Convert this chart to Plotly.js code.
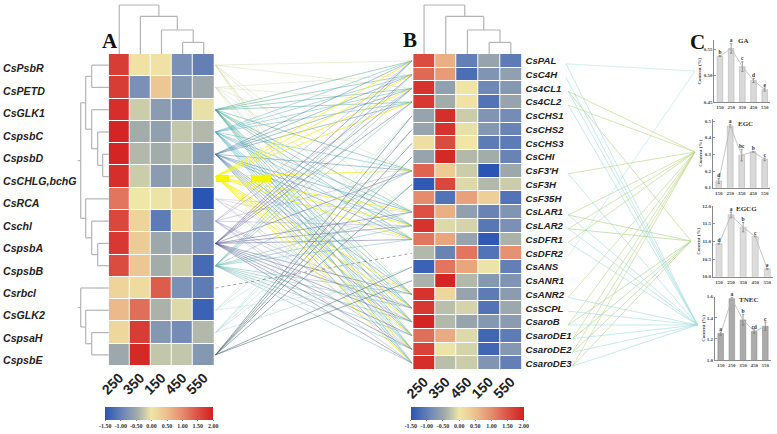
<!DOCTYPE html>
<html><head><meta charset="utf-8">
<script src="https://cdn.plot.ly/plotly-3.0.1.min.js"></script>
<style>html,body{margin:0;padding:0;background:#fff}#c{width:777px;height:434px}</style>
</head><body><div id="c"></div>
<script>
// ---------- data ----------
const genesA = ["CsPsbR","CsPETD","CsGLK1","CspsbC","CspsbD","CsCHLG,bchG","CsRCA","Cschl","CspsbA","CspsbB","Csrbcl","CsGLK2","CspsaH","CspsbE"];
const colsA = ["250","350","150","450","550"];
const valuesA = [
[1.7,0.05,0.05,-0.8,-1.0],[1.7,-0.8,0.4,-0.7,-0.5],[1.85,-0.2,-0.65,-0.8,-0.05],[1.95,-0.45,-0.6,-0.25,-0.35],
[1.95,-0.35,-0.45,-0.25,-0.7],[1.85,-0.2,-0.65,-0.45,-0.5],[1.2,0.0,-0.02,0.25,-1.5],[1.6,0.25,-1.05,0.05,-0.7],
[1.75,0.35,-0.5,-0.55,-0.85],[1.55,0.4,-0.45,-0.2,-1.25],[0.25,0.15,1.4,-0.8,-1.05],[0.55,1.25,-0.4,-0.1,-1.35],
[0.2,1.7,-0.7,-0.85,-0.35],[-0.5,1.9,-0.25,-0.25,-0.7]];
const genesB = ["CsPAL","CsC4H","Cs4CL1","Cs4CL2","CsCHS1","CsCHS2","CsCHS3","CsCHI","CsF3'H","CsF3H","CsF35H","CsLAR1","CsLAR2","CsDFR1","CsDFR2","CsANS","CsANR1","CsANR2","CsSCPL","CsaroB","CsaroDE1","CsaroDE2","CsaroDE3"];
const colsB = ["250","350","450","150","550"];
const valuesB = [
[1.55,0.65,-1.0,-0.55,-1.05],[1.3,0.85,-1.2,-0.75,-0.6],[1.8,-0.6,0.02,-0.9,-0.7],[1.75,-0.45,0.05,-1.15,-0.55],
[-0.55,1.85,-0.2,-0.75,-0.85],[-0.55,1.8,-0.05,-0.7,-0.95],[0.1,1.55,0.0,-1.05,-1.05],[-0.55,1.9,-0.35,-0.45,-0.95],
[1.35,0.35,-0.2,-1.5,-0.5],[-1.45,1.6,-0.1,-0.35,-0.2],[1.0,-1.15,0.8,0.3,-1.15],[1.5,0.65,-0.6,-0.95,-0.75],
[1.8,-0.1,-0.15,-1.1,-0.8],[1.2,0.75,-0.55,-1.45,-0.4],[-0.35,-0.95,1.2,-1.15,0.95],[-1.35,1.2,0.75,-0.02,-1.0],
[-0.4,1.95,-0.35,-0.7,-0.75],[1.8,0.2,-0.55,-1.05,-0.65],[1.75,-0.3,-0.15,-1.15,-0.5],[1.95,-0.35,-0.55,-0.7,-0.65],
[1.25,0.7,-0.1,-1.3,-1.05],[1.65,-0.02,-0.15,-1.3,-0.7],[1.85,-0.3,-0.2,-0.75,-1.0]];
const scaleTicks = [-1.5,-1,-0.5,0,0.5,1,1.5,2];
const scaleLabels = ["-1.50","-1.00","-0.50","0.00","0.50","1.00","1.50","2.00"];

// dendrograms: [height, childA, childB], leaves are row / column indices
const colTree = [49,0,[37.6,1,[24,2,[11.6,3,4]]]];
const rowTreeUpper = [28,[23,[17,0,1],[17,2,[11,3,[6,4,5]]]],[23,6,[17,7,[11,8,9]]]];
const rowTreeLower = [28,10,[23,11,[17,12,13]]];

// correlation network A -> B (target names)
const highB = ["CsPAL","CsC4H","Cs4CL1","Cs4CL2","CsF3'H","CsLAR1","CsLAR2","CsDFR1","CsANR2","CsSCPL","CsaroB","CsaroDE1","CsaroDE2","CsaroDE3"];
const midB = ["CsCHS1","CsCHS2","CsCHS3","CsCHI","CsF3H","CsANS","CsANR1"];
const networkA = [
 {from:"CsPsbR",to:["CsPAL","Cs4CL1","CsLAR1","CsDFR1","CsaroB","CsaroDE1","CsaroDE3"],color:"rgba(205,212,150,0.4)"},
 {from:"CsPETD",to:["CsC4H","Cs4CL2","CsF3'H","CsLAR2","CsANR2","CsSCPL","CsaroDE2"],color:"rgba(205,215,165,0.4)"},
 {from:"CsGLK1",to:highB,color:"rgba(60,165,140,0.45)"},
 {from:"CspsbC",to:highB,color:"rgba(80,175,195,0.45)"},
 {from:"CspsbD",to:highB,color:"rgba(70,125,165,0.45)"},
 {from:"CsCHLG,bchG",to:highB,color:"rgba(245,245,30,0.8)"},
 {from:"CsRCA",to:["CsLAR1","CsDFR1","CsANR2","CsaroDE1","CsaroDE2"],color:"rgba(190,190,210,0.45)"},
 {from:"Cschl",to:["CsPAL","Cs4CL1","CsF3'H","CsLAR2","CsSCPL","CsaroB","CsaroDE2","CsaroDE3"],color:"rgba(150,145,200,0.4)"},
 {from:"CspsbA",to:highB,color:"rgba(85,85,150,0.45)"},
 {from:"CspsbB",to:highB,color:"rgba(100,180,175,0.45)"},
 {from:"CsGLK2",to:["CsCHS1","CsCHS3","CsF3H","CsANR1"],color:"rgba(195,228,222,0.55)"},
 {from:"CspsaH",to:["CsCHS1","CsCHS2","CsCHI","CsF3H","CsANS"],color:"rgba(175,222,215,0.55)"},
 {from:"CspsbE",to:midB,color:"rgba(80,110,115,0.55)"}
];
const dashedLink = {from:"Csrbcl",to:["CsDFR2"],color:"rgba(110,110,110,0.8)"};

// network B -> C
const contentNames = ["GA","EGC","EGCG","TNEC"];
const networkB = [
 {to:"GA",from:["CsPAL","CsDFR2"],color:"rgba(190,235,230,0.7)"},
 {to:"EGC",from:["Cs4CL1","Cs4CL2","CsF3'H","CsLAR1","CsLAR2","CsDFR1","CsANR2","CsaroB","CsaroDE1","CsaroDE2","CsaroDE3"],color:"rgba(185,215,125,0.6)"},
 {to:"EGCG",from:["Cs4CL1","CsLAR1","CsLAR2","CsaroB","CsaroDE1","CsaroDE2","CsaroDE3"],color:"rgba(170,210,130,0.6)"},
 {to:"TNEC",from:["CsPAL","CsC4H","Cs4CL1","Cs4CL2","CsF3'H","CsLAR1","CsLAR2","CsDFR1","CsANR2","CsSCPL","CsaroB","CsaroDE1","CsaroDE2","CsaroDE3"],color:"rgba(160,220,222,0.6)"}
];

// bar panels
const doses = ["150","250","350","450","550"];
const gaVal = [0.537,0.551,0.517,0.491,0.474];
const gaErr = [0.001,0.009,0.009,0.004,0.003];
const gaSig = ["b","a","c","d","e"];
const egcVal = [0.14,0.47,0.295,0.315,0.27];
const egcErr = [0.015,0.008,0.035,0.003,0.008];
const egcSig = ["d","a","bc","b","c"];
const egcgVal = [10.93,11.75,11.4,11.14,10.22];
const egcgErr = [0.01,0.08,0.13,0.01,0.01];
const egcgSig = ["d","a","b","c","e"];
const tnecVal = [1.25,1.58,1.38,1.27,1.32];
const tnecErr = [0.015,0.015,0.05,0.015,0.04];
const tnecSig = ["a","a","b","cd","c"];

// ---------- layout helpers ----------
const W=777,H=434;
const dx=(a,b)=>[a/W,b/W];
const dy=(top,bot)=>[1-bot/H,1-top/H];
const scale=[[0,"#2a55b3"],[0.2,"#7a90b6"],[0.3,"#a2aca9"],[0.36,"#c4c7ab"],[0.4286,"#f0e6a6"],[0.57,"#ecc08e"],[0.72,"#e58a6c"],[0.85,"#dc5446"],[1,"#d31f1f"]];
const sans="Liberation Sans, Arial, sans-serif", serif="Liberation Serif, Times New Roman, serif";

const A={x0:108.7,x1:214.3,y0:54,y1:366};
const B={x0:413.2,x1:521.7,y0:54,y1:370};
const rowY=(box,n,i)=>box.y0+(box.y1-box.y0)*(i+0.5)/n;
const colX=(box,n,i)=>box.x0+(box.x1-box.x0)*(i+0.5)/n;

const traces=[];
const layout={width:W,height:H,margin:{l:0,r:0,t:0,b:0,autoexpand:false},paper_bgcolor:"#fff",plot_bgcolor:"rgba(0,0,0,0)",showlegend:false,annotations:[],bargap:0.12};

function heat(box,names,cols,z,xa,ya,cbx,cblen){
  traces.push({type:"heatmap",z:z,x:cols,y:names,xaxis:xa,yaxis:ya,xgap:1,ygap:1,zmin:-1.5,zmax:2,colorscale:scale,hoverinfo:"skip",
    colorbar:{orientation:"h",xref:"paper",yref:"paper",x:cbx/W,xanchor:"left",y:1-406.7/H,yanchor:"top",lenmode:"pixels",len:cblen,thicknessmode:"pixels",thickness:13.3,
      outlinewidth:0,xpad:0,ypad:0,ticks:"outside",ticklen:1.5,tickwidth:0.6,tickcolor:"#333",tickangle:0,tickvals:scaleTicks,ticktext:scaleLabels,tickfont:{family:serif,size:6,weight:"bold",color:"#333"}}});
}
heat(A,genesA,colsA,valuesA,"x","y",105.3,108);
heat(B,genesB,colsB,valuesB,"x2","y2",410.7,113.3);
const xTick={family:sans,size:14,weight:"bold",color:"#222"};
layout.xaxis={domain:dx(A.x0,A.x1),anchor:"y",type:"category",tickangle:-45,tickfont:xTick,ticklen:0,ticks:"",showgrid:false,zeroline:false,showline:false};
layout.yaxis={domain:dy(A.y0,A.y1),anchor:"x",type:"category",autorange:"reversed",showticklabels:false,ticks:"",showgrid:false,zeroline:false,showline:false};
layout.xaxis2={domain:dx(B.x0,B.x1),anchor:"y2",type:"category",tickangle:-45,tickfont:xTick,ticklen:0,ticks:"",showgrid:false,zeroline:false,showline:false};
layout.yaxis2={domain:dy(B.y0,B.y1),anchor:"x2",side:"right",type:"category",autorange:"reversed",tickmode:"array",tickvals:genesB,ticktext:genesB,tickfont:{family:sans,size:9.6,weight:"bold",style:"italic",color:"#222"},ticks:"outside",ticklen:1,tickcolor:"rgba(0,0,0,0)",showgrid:false,zeroline:false,showline:false};
// page-wide overlay used for dendrograms and network links
layout.xaxis3={domain:[0,1],range:[0,W],anchor:"y3",visible:false,fixedrange:true};
layout.yaxis3={domain:[0,1],range:[H,0],anchor:"x3",visible:false,fixedrange:true};

genesA.forEach((g,i)=>layout.annotations.push({text:g,xref:"paper",yref:"paper",x:0.5/W,y:1-(rowY(A,genesA.length,i)+3+i*0.2)/H,xanchor:"left",yanchor:"middle",showarrow:false,font:{family:sans,size:10.6,weight:"bold",style:"italic",color:"#222"}}));

// dendrograms
function dendro(node,place,out){
  if(typeof node==="number") return {pos:node,h:0,leaf:true};
  const [h,a,b]=node;
  const ra=dendro(a,place,out), rb=dendro(b,place,out);
  const pa=ra.leaf?place.leaf(ra.pos):ra.pos, pb=rb.leaf?place.leaf(rb.pos):rb.pos;
  place.seg(out,pa,ra.h,h); place.seg(out,pb,rb.h,h);
  place.bar(out,pa,pb,h);
  return {pos:(pa+pb)/2,h:h};
}
function colPlacer(box,n){return {leaf:i=>colX(box,n,i),
  seg:(o,p,h0,h1)=>{o.x.push(p,p,null);o.y.push(box.y0-h0,box.y0-h1,null);},
  bar:(o,a,b,h)=>{o.x.push(a,b,null);o.y.push(box.y0-h,box.y0-h,null);}};}
function rowPlacer(box,n){return {leaf:i=>rowY(box,n,i),
  seg:(o,p,h0,h1)=>{o.y.push(p,p,null);o.x.push(box.x0-h0,box.x0-h1,null);},
  bar:(o,a,b,h)=>{o.y.push(a,b,null);o.x.push(box.x0-h,box.x0-h,null);}};}
const den={x:[],y:[]};
dendro(colTree,colPlacer(A,5),den);
dendro(colTree,colPlacer(B,5),den);
[rowTreeUpper,rowTreeLower].forEach(t=>{
  const r=dendro(t,rowPlacer(A,14),den);
  den.x.push(A.x0-t[0],A.x0-t[0]-3,null);den.y.push(r.pos,r.pos,null);
});
traces.push({type:"scatter",mode:"lines",x:den.x,y:den.y,xaxis:"x3",yaxis:"y3",line:{color:"#b4b4b4",width:1.2},hoverinfo:"skip"});

// network A -> B
const leftX=215.5,rightX=412;
function linksAB(s,dash,width){
  const i=genesA.indexOf(s.from),xs=[],ys=[];
  s.to.forEach(t=>{xs.push(leftX,rightX,null);ys.push(rowY(A,14,i),rowY(B,23,genesB.indexOf(t)),null);});
  traces.push({type:"scatter",mode:"lines",x:xs,y:ys,xaxis:"x3",yaxis:"y3",line:{color:s.color,width:width,dash:dash},hoverinfo:"skip"});
}
networkA.forEach(s=>linksAB(s,"solid",1));
linksAB(dashedLink,"dot",0.8);
// thick yellow edge segments beside CsCHLG,bchG
traces.push({type:"scatter",mode:"lines",x:[216,229,null,251,271],y:[178.5,178.5,null,179,179],xaxis:"x3",yaxis:"y3",line:{color:"#f6f600",width:7},hoverinfo:"skip"});

// network B -> C
const nodeC={GA:[695,71],EGC:[695,152],EGCG:[691,241],TNEC:[697.5,325]};
networkB.forEach(s=>{
  const xs=[],ys=[];
  s.from.forEach(g=>{xs.push(555+g.length*2.2,nodeC[s.to][0],null);ys.push(rowY(B,23,genesB.indexOf(g))+3,nodeC[s.to][1],null);});
  traces.push({type:"scatter",mode:"lines",x:xs,y:ys,xaxis:"x3",yaxis:"y3",line:{color:s.color,width:1},hoverinfo:"skip"});
});

// bar panels
const panels=[
 {name:"GA",v:gaVal,e:gaErr,s:gaSig,x:[714.4,770.3],y:[40,102.3],r:[0.45,0.567],t:[0.45,0.5,0.55],f:".2f",fill:"#d9d9d9",edge:"#b5b5b5",tx:743,ty:41},
 {name:"EGC",v:egcVal,e:egcErr,s:egcSig,x:[713,770.4],y:[119,187.7],r:[0.1,0.512],t:[0.1,0.2,0.3,0.4,0.5],f:".1f",fill:"#d9d9d9",edge:"#b5b5b5",tx:745,ty:124},
 {name:"EGCG",v:egcgVal,e:egcgErr,s:egcgSig,x:[713,773.3],y:[206,276.7],r:[10,12],t:[10,10.5,11,11.5,12],f:".1f",fill:"#dcdcdc",edge:"#c0c0c0",tx:746,ty:209},
 {name:"TNEC",v:tnecVal,e:tnecErr,s:tnecSig,x:[715.1,770.9],y:[296.7,360],r:[1,1.6],t:[1,1.2,1.4,1.6],f:".1f",fill:"#ababab",edge:"#8d8d8d",tx:748,ty:300}
];
panels.forEach((p,k)=>{
  const n=k+4, xa="x"+n, ya="y"+n;
  const small={family:serif,size:5,weight:"bold",color:"#444"};
  traces.push({type:"bar",x:doses,y:p.v,xaxis:xa,yaxis:ya,width:0.5,marker:{color:p.fill,line:{color:p.edge,width:0.6}},
    error_y:{type:"data",array:p.e,visible:true,color:"#777",thickness:0.7,width:1.2},hoverinfo:"skip"});
  traces.push({type:"scatter",mode:"lines",x:doses,y:p.v,xaxis:xa,yaxis:ya,line:{color:"#b8b8b8",width:0.8},hoverinfo:"skip"});
  traces.push({type:"scatter",mode:"text",x:doses,y:p.v.map((v,i)=>v+p.e[i]),text:p.s,textposition:"top center",cliponaxis:false,xaxis:xa,yaxis:ya,textfont:{family:serif,size:5.5,weight:"bold",color:"#333"},hoverinfo:"skip"});
  layout["xaxis"+n]={domain:dx(p.x[0],p.x[1]),anchor:ya,type:"category",showline:true,linecolor:"#8a8a8a",linewidth:1,tickfont:small,ticks:"",ticklen:0,showgrid:false,zeroline:false,fixedrange:true,tickangle:0};
  layout["yaxis"+n]={domain:dy(p.y[0],p.y[1]),anchor:xa,range:p.r,showline:true,linecolor:"#8a8a8a",linewidth:1,tickvals:p.t,tickformat:p.f,tickfont:small,ticks:"inside",ticklen:2,tickcolor:"#666",tickwidth:0.7,showgrid:false,zeroline:false,fixedrange:true,
    title:{text:"Content (%)",font:{family:serif,size:5,weight:"bold",color:"#444"},standoff:1}};
  layout.annotations.push({text:p.name,xref:"paper",yref:"paper",x:p.tx/W,y:1-p.ty/H,xanchor:"center",yanchor:"middle",showarrow:false,font:{family:serif,size:7,weight:"bold",color:"#333"}});
});

// panel letters
[["A",110,41],["B",410,40],["C",697,42]].forEach(([t,x,y])=>layout.annotations.push({text:t,xref:"paper",yref:"paper",x:x/W,y:1-y/H,xanchor:"center",yanchor:"middle",showarrow:false,font:{family:serif,size:21,weight:"bold",color:"#111"}}));

Plotly.newPlot("c",traces,layout,{displayModeBar:false,staticPlot:true});
</script></body></html>
